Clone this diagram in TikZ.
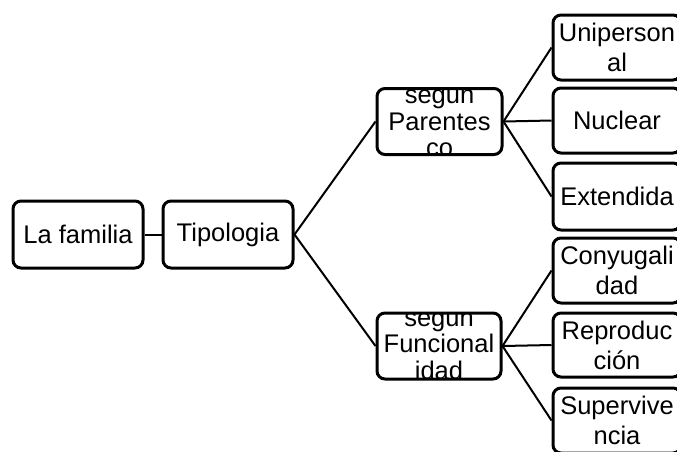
\documentclass[tikz,border=0pt]{standalone}
\usepackage{fontspec}
\setmainfont{Liberation Sans}
\usetikzlibrary{positioning}
\tikzset{bx/.style={draw,line width=3pt,rounded corners=8pt,minimum width=130pt,minimum height=66pt,inner sep=1pt,align=center},
 cut/.style 2 args={bx,path picture={\node[txt] at ([yshift=#2]path picture bounding box.center){#1};}},
 wire/.style={line width=2pt},txt/.style={align=center,font=\fontsize{25.5}{26.6}\selectfont}}

\begin{document}
\begin{tikzpicture}[x=1pt,y=-1pt,font=\fontsize{25.5}{30}\selectfont]
\useasboundingbox(0,0)rectangle(677,451);
\clip(0,0)rectangle(677,451);
\node[bx,minimum height=67pt](fam) at(78,234.5){La familia};
\node[bx,minimum height=67pt](tip) at(228,234.5){Tipologia};
\node[cut={segun\\Parentes\\co}{-2pt},minimum width=125pt,minimum height=66pt](par) at(439.5,121.5){};
\node[cut={segun\\Funcional\\idad}{0pt},minimum width=124pt,minimum height=66pt](fun) at(439,346){};
\node[bx,minimum width=128pt,minimum height=65pt](uni) at(617,47.5){Uniperson\\al};
\node[bx,minimum width=128pt,minimum height=65pt](nuc) at(617,120.5){Nuclear};
\node[bx,minimum width=128pt,minimum height=67pt](ext) at(617,196.5){Extendida};
\node[bx,minimum width=128pt,minimum height=65pt](con) at(617,270.5){Conyugali\\dad};
\node[bx,minimum width=128pt,minimum height=64pt](rep) at(617,345){Reproduc\\ción};
\node[bx,minimum width=128pt,minimum height=65pt](sup) at(617,420.5){Supervive\\ncia};
\draw[wire](fam.east)--(tip.west);
\draw[wire](tip.east)--(par.west);
\draw[wire](tip.east)--(fun.west);
\draw[wire](par.east)--(uni.west);
\draw[wire](par.east)--(nuc.west);
\draw[wire](par.east)--(ext.west);
\draw[wire](fun.east)--(con.west);
\draw[wire](fun.east)--(rep.west);
\draw[wire](fun.east)--(sup.west);
\end{tikzpicture}
\end{document}
